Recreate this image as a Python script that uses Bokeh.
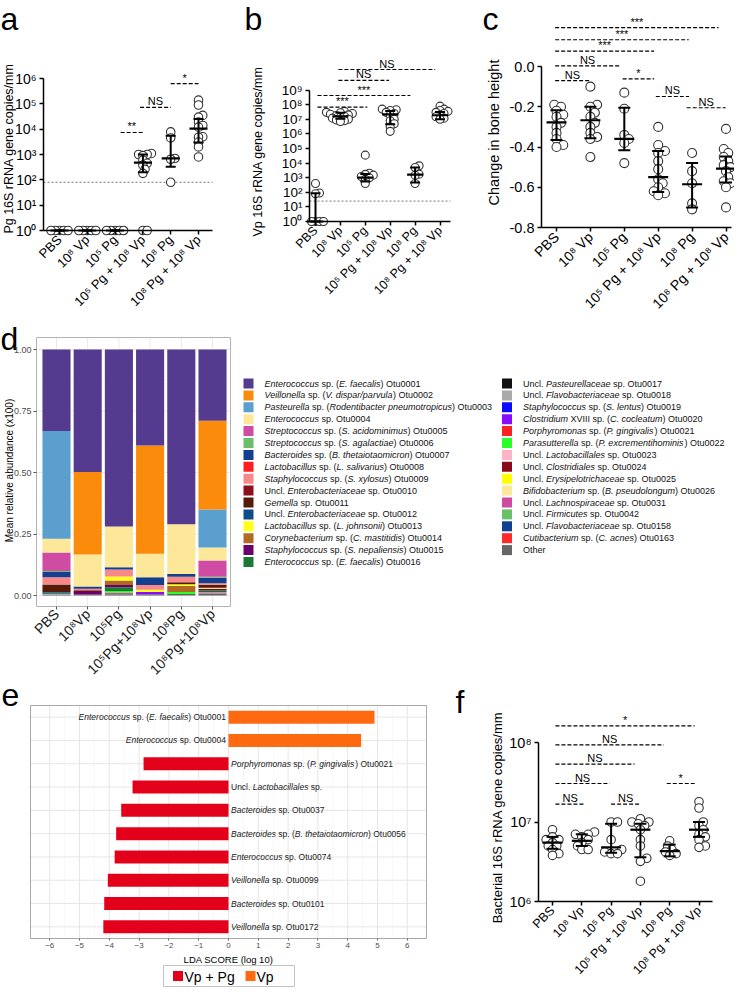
import math
from bokeh.plotting import figure
from bokeh.models import (Range1d, FixedTicker, CustomJSTickFormatter, NumeralTickFormatter,
                          ColumnDataSource)
from bokeh.layouts import row, column
from bokeh.embed import file_html
from bokeh.resources import INLINE
from bokeh.core.properties import value

FONT = "Liberation Sans"

# ---------------------------------------------------------------- data
groups = ["PBS", "10⁸ Vp", "10⁵ Pg", "10⁵ Pg + 10⁸ Vp", "10⁸ Pg", "10⁸ Pg + 10⁸ Vp"]
groups_d = ["PBS", "10⁸Vp", "10⁵Pg", "10⁵Pg+10⁸Vp", "10⁸Pg", "10⁸Pg+10⁸Vp"]

# (a) Pg 16S rRNA gene copies/mm
pg_PBS = [1, 1, 1, 1, 1]
pg_Vp = [1, 1, 1, 1, 1]
pg_Pg5 = [1, 1, 1, 1, 1]
pg_Pg5Vp = [1100, 1000, 1000, 900, 600, 450, 380, 260, 180, 1, 1]
pg_Pg8 = [7800, 4500, 700, 650, 80]
pg_Pg8Vp = [140000, 90000, 35000, 30000, 19000, 14000, 12000, 5000, 4800, 3100, 2000, 800]
pg_median = [1, 1, 1, 480, 700, 10500]
pg_low = [1, 1, 1, 200, 330, 3000]
pg_high = [1, 1, 1, 1000, 5500, 25000]
pg_limit = 80
pg_sig_from = [2.2, 2.9, 4.0]
pg_sig_to = [3.0, 4.0, 5.0]
pg_sig_y = [7400, 72000, 630000]
pg_sig_text = ["**", "NS", "*"]

# (b) Vp 16S rRNA gene copies/mm
vp_PBS = [400, 90, 80, 1, 1, 1, 1]
vp_Vp = [3.5e7, 3e7, 2.8e7, 2.5e7, 2.2e7, 2e7, 1.8e7, 1.6e7, 1.4e7, 1.2e7, 1e7, 9e6, 8e6, 7e6]
vp_Pg5 = [3.5e4, 2e3, 1.7e3, 1.5e3, 1.2e3, 1e3, 800, 400]
vp_Pg5Vp = [5e7, 4.5e7, 4e7, 3e7, 2.5e7, 2e7, 1e7, 8e6, 5e6, 3e6, 1.5e6]
vp_Pg8 = [6500, 5000, 1750, 1500, 400]
vp_Pg8Vp = [8e7, 5e7, 4e7, 3.5e7, 3e7, 2.5e7, 2e7, 1.5e7, 1.2e7, 1e7]
vp_median = [1, 1.6e7, 1000, 2.2e7, 1600, 1.9e7]
vp_low = [1, 1.1e7, 550, 4.6e6, 470, 1e7]
vp_high = [85, 2.8e7, 1800, 3.7e7, 5000, 3.2e7]
vp_limit = 25
vp_sig_from = [0.08, 0.08, 0.92, 0.92]
vp_sig_to = [2.08, 3.81, 2.95, 4.81]
vp_sig_y = [10 ** 7.83, 10 ** 8.63, 10 ** 9.66, 10 ** 10.41]
vp_sig_text = ["***", "***", "NS", "NS"]

# (c) change in bone height
bh_PBS = [-0.19, -0.20, -0.22, -0.24, -0.25, -0.28, -0.30, -0.33, -0.36, -0.39, -0.40]
bh_Vp = [-0.10, -0.19, -0.20, -0.23, -0.25, -0.28, -0.30, -0.33, -0.35, -0.36, -0.45]
bh_Pg5 = [-0.13, -0.21, -0.34, -0.36, -0.38, -0.48]
bh_Pg5Vp = [-0.30, -0.39, -0.42, -0.43, -0.47, -0.51, -0.56, -0.58, -0.60, -0.62, -0.63, -0.64]
bh_Pg8 = [-0.43, -0.52, -0.58, -0.68, -0.71]
bh_Pg8Vp = [-0.31, -0.41, -0.43, -0.45, -0.47, -0.49, -0.50, -0.52, -0.55, -0.57, -0.58, -0.60, -0.70]
bh_median = [-0.278, -0.267, -0.36, -0.55, -0.585, -0.507]
bh_low = [-0.365, -0.356, -0.416, -0.623, -0.70, -0.576]
bh_high = [-0.217, -0.20, -0.205, -0.42, -0.48, -0.447]
bh_sig_from = [-0.04, -0.04, -0.04, -0.04, -0.04, 1.95, 2.93, 3.84]
bh_sig_to = [0.98, 1.87, 2.88, 3.90, 4.78, 2.88, 3.91, 4.99]
bh_sig_y = [-0.07, 0.003, 0.076, 0.133, 0.193, -0.061, -0.149, -0.205]
bh_sig_text = ["NS", "NS", "***", "***", "***", "*", "NS", "NS"]

# (f) Bacterial 16S rRNA gene copies/mm
bt_PBS = [8e6, 6.5e6, 6e6, 6e6, 5.5e6, 5e6, 5e6, 4.5e6, 4e6, 3.8e6]
bt_Vp = [7.5e6, 7e6, 7e6, 6.5e6, 6e6, 5.5e6, 5e6, 4.5e6, 4.5e6]
bt_Pg5 = [1e7, 1e7, 6e6, 4.5e6, 4.2e6, 4e6, 4e6]
bt_Pg5Vp = [1.1e7, 1e7, 1e7, 9.5e6, 9e6, 8e6, 6e6, 5e6, 3.5e6, 3.2e6, 1.8e6]
bt_Pg8 = [5.8e6, 5e6, 4.5e6, 4.2e6, 4e6, 3.8e6]
bt_Pg8Vp = [1.8e7, 1.5e7, 1e7, 9e6, 8e6, 7e6, 6.5e6, 6e6, 5e6, 4.8e6]
bt_median = [5.5e6, 5.8e6, 4.8e6, 8e6, 4.3e6, 8e6]
bt_low = [4.6e6, 5e6, 4.1e6, 3.6e6, 3.7e6, 6.5e6]
bt_high = [6.5e6, 7e6, 9.5e6, 9.5e6, 5.2e6, 1e7]
bt_sig_from = [0.1, 0.1, 0.1, 0.1, 0.1, 2.0, 3.9]
bt_sig_to = [1.1, 1.95, 2.8, 3.8, 4.85, 3.0, 4.85]
bt_sig_y = [10 ** 7.225, 10 ** 7.484, 10 ** 7.728, 10 ** 7.971, 10 ** 8.21, 10 ** 7.225, 10 ** 7.484]
bt_sig_text = ["NS", "NS", "NS", "NS", "*", "NS", "*"]

# (d) mean relative abundance, one list per group (31 OTUs, legend order)
otu_labels = [
    "*Enterococcus* sp. (*E. faecalis*) Otu0001",
    "*Veillonella* sp. (*V. dispar/parvula*) Otu0002",
    "*Pasteurella* sp. (*Rodentibacter pneumotropicus*) Otu0003",
    "*Enterococcus* sp. Otu0004",
    "*Streptococcus* sp. (*S. acidominimus*) Otu0005",
    "*Streptococcus* sp. (*S. agalactiae*) Otu0006",
    "*Bacteroides* sp. (*B. thetaiotaomicron*) Otu0007",
    "*Lactobacillus* sp. (*L. salivarius*) Otu0008",
    "*Staphylococcus* sp. (*S. xylosus*) Otu0009",
    "Uncl. *Enterobacteriaceae* sp. Otu0010",
    "*Gemella* sp. Otu0011",
    "Uncl. *Enterobacteriaceae* sp. Otu0012",
    "*Lactobacillus* sp. (*L. johnsonii*) Otu0013",
    "*Corynebacterium* sp. (*C. mastitidis*) Otu0014",
    "*Staphylococcus* sp. (*S. nepaliensis*) Otu0015",
    "*Enterococcus* sp. (*E. faecalis*) Otu0016",
    "Uncl. *Pasteurellaceae* sp. Otu0017",
    "Uncl. *Flavobacteriaceae* sp. Otu0018",
    "*Staphylococcus* sp. (*S. lentus*) Otu0019",
    "*Clostridium* XVIII sp. (*C. cocleatum*) Otu0020",
    "*Porphyromonas* sp. (*P. gingivalis*) Otu0021",
    "*Parasutterella* sp. (*P. excrementihominis*) Otu0022",
    "Uncl. *Lactobacillales* sp. Otu0023",
    "Uncl. *Clostridiales* sp. Otu0024",
    "Uncl. *Erysipelotrichaceae* sp. Otu0025",
    "*Bifidobacterium* sp. (*B. pseudolongum*) Otu0026",
    "Uncl. *Lachnospiraceae* sp. Otu0031",
    "Uncl. *Firmicutes* sp. Otu0042",
    "Uncl. *Flavobacteriaceae* sp. Otu0158",
    "*Cutibacterium* sp. (*C. acnes*) Otu0163",
    "Other",
]
otu_colors = [
    "#553b8f", "#fb8c0b", "#5a9fcd", "#fde89a", "#d04ba3", "#6cbd6c", "#133f8e", "#ff1f1f",
    "#f7898b", "#8c0f1e", "#561a08", "#0e4e88", "#ffff1a", "#b06a25", "#6b006b", "#1a7a33",
    "#111111", "#aaaaaa", "#0a0aff", "#8a0aff", "#ff2020", "#2aff2a", "#ffb3c6", "#8b0a1a",
    "#ffff00", "#fde79a", "#d04aa0", "#6abf69", "#0f4190", "#ff2a2a", "#666666",
]
ab_PBS = [0.331, 0, 0.438, 0.056, 0.075, 0.004, 0.022, 0, 0.029, 0, 0.031, 0.003, 0, 0, 0, 0.003,
          0.002, 0.002, 0, 0, 0, 0, 0, 0, 0, 0, 0, 0, 0, 0, 0.004]
ab_Vp = [0.498, 0.335, 0, 0.130, 0, 0, 0.010, 0, 0.005, 0, 0, 0, 0, 0.004, 0.014, 0,
         0, 0, 0, 0, 0, 0, 0, 0, 0, 0, 0, 0, 0, 0, 0.004]
ab_Pg5 = [0.72, 0, 0, 0.165, 0, 0, 0.009, 0, 0.029, 0, 0, 0, 0.016, 0.018, 0.009, 0.016,
          0, 0, 0, 0, 0, 0.007, 0, 0, 0, 0, 0.006, 0, 0, 0, 0.005]
ab_Pg5Vp = [0.39, 0.44, 0, 0.0955, 0, 0, 0.0315, 0, 0.02, 0, 0, 0, 0.009, 0, 0, 0,
            0, 0, 0, 0.009, 0, 0, 0, 0, 0, 0, 0, 0, 0, 0, 0.005]
ab_Pg8 = [0.71, 0, 0, 0.203, 0, 0, 0.011, 0, 0.022, 0, 0.008, 0, 0.007, 0.025, 0, 0,
          0, 0, 0, 0, 0, 0.008, 0, 0, 0, 0, 0, 0, 0, 0, 0.006]
ab_Pg8Vp = [0.29, 0.36, 0.155, 0.053, 0.066, 0.004, 0.022, 0, 0.006, 0, 0.013, 0, 0.004, 0, 0.006, 0.004,
            0.004, 0, 0, 0, 0, 0, 0.004, 0, 0, 0, 0, 0, 0, 0, 0.009]
ab_ticks = [0, 0.25, 0.5, 0.75, 1.0]

# (e) LEfSe
lda_labels = [
    "*Enterococcus* sp. (*E. faecalis*) Otu0001",
    "*Enterococcus* sp. Otu0004",
    "*Porphyromonas* sp. (*P. gingivalis*) Otu0021",
    "Uncl. *Lactobacillales* sp.",
    "*Bacteroides* sp. Otu0037",
    "*Bacteroides* sp. (*B. thetaiotaomicron*) Otu0056",
    "*Enterococcus* sp. Otu0074",
    "*Veillonella* sp. Otu0099",
    "*Bacteroides* sp. Otu0101",
    "*Veillonella* sp. Otu0172",
]
lda_scores = [4.9, 4.45, -2.85, -3.22, -3.6, -3.77, -3.82, -4.05, -4.17, -4.2]
lda_class = ["Vp", "Vp", "Vp + Pg", "Vp + Pg", "Vp + Pg", "Vp + Pg", "Vp + Pg", "Vp + Pg", "Vp + Pg", "Vp + Pg"]
lda_class_names = ["Vp + Pg", "Vp"]
lda_class_colors = ["#e3001b", "#ff6a10"]
lda_ticks = list(range(-6, 7))

# ---------------------------------------------------------------- helpers
AW = {' ': 278, '(': 333, ')': 333, '.': 278, '/': 278, '+': 584, '-': 333}
for _c in "0123456789":
    AW[_c] = 556
AW.update(dict(zip("abcdefghijklmnopqrstuvwxyz",
                   [556, 556, 500, 556, 556, 278, 556, 556, 222, 222, 500, 222, 833, 556, 556, 556,
                    556, 333, 500, 278, 556, 500, 722, 500, 500, 500])))
AW.update(dict(zip("ABCDEFGHIJKLMNOPQRSTUVWXYZ",
                   [667, 667, 722, 722, 667, 611, 778, 722, 278, 500, 667, 556, 833, 722, 778, 667,
                    778, 722, 667, 611, 722, 667, 944, 667, 667, 611])))

LETTER_FS = 32


def tw(s, size):
    return sum(AW.get(ch, 556) for ch in s) / 1000.0 * size


def segments(label, size):
    out = []
    cum = 0.0
    for i, part in enumerate(label.split("*")):
        if not part:
            continue
        lead = len(part) - len(part.lstrip(" "))
        stripped = part.strip(" ")
        if stripped:
            out.append((stripped, i % 2 == 1, cum + tw(part[:lead], size)))
        cum += tw(part, size)
    return out, cum


def swarm(vals, ypx, diam, mind):
    order = sorted(range(len(vals)), key=lambda i: ypx(vals[i]))
    placed = []
    offs = [0.0] * len(vals)
    step = 0.25 * diam
    md = mind * diam
    cands = [0.0]
    for n in range(1, 80):
        cands += [n * step, -n * step]
    for i in order:
        y = ypx(vals[i])
        for c in cands:
            if all((c - px) ** 2 + (y - py) ** 2 >= md ** 2 - 1e-6 for px, py in placed):
                break
        placed.append((c, y))
        offs[i] = c
    return offs


SUP_JS = """
const s = {"0":"⁰","1":"¹","2":"²","3":"³","4":"⁴","5":"⁵","6":"⁶","7":"⁷","8":"⁸","9":"⁹","-":"⁻"};
const e = Math.round(Math.log10(tick));
return "10" + String(e).split("").map(c => s[c]).join("");
"""


def base_fig(W, H, xr, yr, log=False):
    p = figure(width=W, height=H, x_range=Range1d(*xr), y_range=Range1d(*yr),
               y_axis_type="log" if log else "linear", output_backend="svg",
               toolbar_location=None, min_border_left=0, min_border_right=0,
               min_border_top=0, min_border_bottom=0)
    p.outline_line_color = None
    p.grid.visible = False
    p.background_fill_color = "white"
    p.border_fill_color = "white"
    return p


def add_letter(p, txt, x, y):
    p.text(x=[x], y=[y], text=[txt], text_font=value(FONT), text_font_size="%dpx" % LETTER_FS,
           text_baseline="top", text_align="left", text_color="black")


def dot_panel(W, H, gx0, sx, y0px, yv0, sy, log, yticks, yaxis_px, xend_px, ylabel, ylab_pos,
              fmt, series, med, lo, hi, s_from, s_to, s_y, s_text, limit, letter, letter_px,
              tick_fs, ylab_fs, xlab_fs, diam, mind, medw, capw):
    # whole canvas is the frame; axes are placed at fixed data locations
    xr = (-gx0 / sx, (W - gx0) / sx)
    top_v = yv0 + y0px / sy
    bot_v = yv0 - (H - y0px) / sy
    yr = (10 ** bot_v, 10 ** top_v) if log else (bot_v, top_v)
    p = base_fig(W, H, xr, yr, log)

    def X(px):
        return (px - gx0) / sx

    def Y(px):
        v = yv0 + (y0px - px) / sy
        return 10 ** v if log else v

    def ypx(v):
        return (math.log10(v) if log else v) * sy

    if limit is not None:
        p.segment(x0=[X(yaxis_px)], y0=[limit], x1=[X(xend_px)], y1=[limit], line_color="#777777",
                  line_width=1, line_dash="2 2")
    xs, ys = [], []
    for g, vals in enumerate(series):
        offs = swarm(vals, ypx, diam, mind)
        xs += [g + o / sx for o in offs]
        ys += list(vals)
    p.scatter(x=xs, y=ys, marker="circle", size=diam, fill_color="white",
              line_color="#333333", line_width=1.1)
    gi = list(range(len(series)))
    mw = medw / sx
    cw = capw / sx
    p.segment(x0=gi, y0=lo, x1=gi, y1=hi, line_color="black", line_width=2)
    p.segment(x0=[g - cw for g in gi], y0=hi, x1=[g + cw for g in gi], y1=hi,
              line_color="black", line_width=2)
    p.segment(x0=[g - cw for g in gi], y0=lo, x1=[g + cw for g in gi], y1=lo,
              line_color="black", line_width=2)
    p.segment(x0=[g - mw for g in gi], y0=med, x1=[g + mw for g in gi], y1=med,
              line_color="black", line_width=2.2)
    p.segment(x0=s_from, y0=s_y, x1=s_to, y1=s_y, line_color="black", line_width=1.2,
              line_dash="4 2")
    p.text(x=[(a + b) / 2 for a, b in zip(s_from, s_to)], y=s_y, text=s_text,
           text_align="center", text_baseline="bottom", text_font=value(FONT),
           text_font_size="11px", text_color="black")
    # y-axis title
    p.text(x=[X(ylab_pos[0])], y=[Y(ylab_pos[1])], text=[ylabel], angle=math.pi / 2,
           text_align="center", text_baseline="middle", text_font=value(FONT),
           text_font_size=ylab_fs, text_color="black")
    add_letter(p, letter, X(letter_px[0]), Y(letter_px[1]))

    xa = p.xaxis[0]
    xa.fixed_location = yticks[0]
    xa.bounds = (X(yaxis_px), X(xend_px))
    xa.ticker = FixedTicker(ticks=gi, minor_ticks=[])
    xa.major_label_overrides = {g: groups[g] for g in gi}
    xa.major_label_orientation = math.pi / 4
    xa.major_label_text_font = FONT
    xa.major_label_text_font_size = xlab_fs
    xa.major_label_text_color = "black"
    xa.major_tick_line_width = 1.5
    xa.axis_line_width = 1.5
    xa.major_label_standoff = 3
    xa.major_tick_in = 0
    xa.major_tick_out = 4
    ya = p.yaxis[0]
    ya.fixed_location = X(yaxis_px)
    ya.bounds = (yticks[0], yticks[-1])
    ya.ticker = FixedTicker(ticks=yticks, minor_ticks=[])
    ya.formatter = fmt
    ya.major_label_text_font = FONT
    ya.major_label_text_font_size = tick_fs
    ya.major_label_text_color = "black"
    ya.major_tick_in = 0
    ya.major_tick_out = 4
    ya.major_tick_line_width = 1.5
    ya.axis_line_width = 1.5
    ya.major_label_standoff = 3
    return p


# ---------------------------------------------------------------- row 1
H1 = 318
pa = dot_panel(237, H1, 59, 27.8, 230, 0.0, 25.33, True, [10 ** k for k in range(7)], 43, 212,
               "Pg 16S rRNA gene copies/mm", (8, 148), CustomJSTickFormatter(code=SUP_JS),
               [pg_PBS, pg_Vp, pg_Pg5, pg_Pg5Vp, pg_Pg8, pg_Pg8Vp], pg_median, pg_low, pg_high,
               pg_sig_from, pg_sig_to, pg_sig_y, pg_sig_text, pg_limit, "a", (0, 0),
               "14px", "12.5px", "13px", 8.5, 0.5, 9, 5)

pb = dot_panel(245, H1, 78, 24.9, 221, 0.0, 14.6, True, [10 ** k for k in range(10)], 72, 213,
               "Vp 16S rRNA gene copies/mm", (20, 151), CustomJSTickFormatter(code=SUP_JS),
               [vp_PBS, vp_Vp, vp_Pg5, vp_Pg5Vp, vp_Pg8, vp_Pg8Vp], vp_median, vp_low, vp_high,
               vp_sig_from, vp_sig_to, vp_sig_y, vp_sig_text, vp_limit, "b", (7, 0),
               "13.5px", "12.5px", "12.5px", 8, 0.5, 8, 5)

pc = dot_panel(252, H1, 74, 33.9, 227, -0.8, 201.25, False, [-0.8, -0.6, -0.4, -0.2, 0.0], 59, 249,
               "Change in bone height", (11, 132), NumeralTickFormatter(format="0.0"),
               [bh_PBS, bh_Vp, bh_Pg5, bh_Pg5Vp, bh_Pg8, bh_Pg8Vp], bh_median, bh_low, bh_high,
               bh_sig_from, bh_sig_to, bh_sig_y, bh_sig_text, None, "c", (0, 0),
               "14.5px", "14.5px", "14px", 9, 0.62, 10, 6)

# ---------------------------------------------------------------- row 2 : (d) stacked bars
H2 = 360
DW = 242
d_gx0, d_sx, d_y0px, d_sy = 56, 31.2, 277, 246.0
pd = base_fig(DW, H2, (-d_gx0 / d_sx, (DW - d_gx0) / d_sx),
              (-(H2 - d_y0px) / d_sy, d_y0px / d_sy))


def dX(px):
    return (px - d_gx0) / d_sx


def dY(px):
    return (d_y0px - px) / d_sy


d_left, d_right, d_top, d_bot = dX(36), dX(230), dY(19), dY(288)
minor_ab = [(a + b) / 2 for a, b in zip(ab_ticks[:-1], ab_ticks[1:])]
pd.segment(x0=[d_left] * len(minor_ab), y0=minor_ab, x1=[d_right] * len(minor_ab), y1=minor_ab,
           line_color="#f3f3f3", line_width=0.6)
pd.segment(x0=[d_left] * len(ab_ticks), y0=ab_ticks, x1=[d_right] * len(ab_ticks), y1=ab_ticks,
           line_color="#e8e8e8", line_width=1)
pd.segment(x0=list(range(6)), y0=[d_bot] * 6, x1=list(range(6)), y1=[d_top] * 6,
           line_color="#e8e8e8", line_width=1)
ab_groups = [ab_PBS, ab_Vp, ab_Pg5, ab_Pg5Vp, ab_Pg8, ab_Pg8Vp]
src = {"x": list(range(6))}
for k in range(len(otu_labels)):
    src["o%d" % k] = [ab[k] for ab in ab_groups]
order = list(range(len(otu_labels) - 1, -1, -1))
pd.vbar_stack(["o%d" % k for k in order], x="x", width=0.9, source=ColumnDataSource(src),
              fill_color=[otu_colors[k] for k in order], line_color=None)
pd.quad(left=[d_left], right=[d_right], bottom=[d_bot], top=[d_top], fill_color=None,
        line_color="#b3b3b3", line_width=1)
add_letter(pd, "d", dX(0), dY(2))
pd.text(x=[dX(9)], y=[dY(152)], text=["Mean relative abundance (x100)"], angle=math.pi / 2,
        text_align="center", text_baseline="middle", text_font=value(FONT),
        text_font_size="10px", text_color="black")
xa = pd.xaxis[0]
xa.fixed_location = d_bot
xa.bounds = (d_left, d_right)
xa.axis_line_color = None
xa.ticker = FixedTicker(ticks=list(range(6)), minor_ticks=[])
xa.major_label_overrides = {i: groups_d[i] for i in range(6)}
xa.major_label_orientation = math.pi / 4
xa.major_label_text_font = FONT
xa.major_label_text_font_size = "14px"
xa.major_label_text_color = "#1a1a1a"
xa.major_label_standoff = 2
xa.major_tick_line_color = "#555555"
xa.major_tick_in = 0
xa.major_tick_out = 3
ya = pd.yaxis[0]
ya.fixed_location = d_left
ya.bounds = (d_bot, d_top)
ya.axis_line_color = None
ya.ticker = FixedTicker(ticks=ab_ticks, minor_ticks=[])
ya.formatter = NumeralTickFormatter(format="0.00")
ya.major_label_text_font = FONT
ya.major_label_text_font_size = "9px"
ya.major_label_text_color = "#4d4d4d"
ya.major_label_standoff = 2
ya.major_tick_line_color = "#555555"
ya.major_tick_in = 0
ya.major_tick_out = 3

# legend of (d)
LFS = 9.0
LW = 492
pl = base_fig(LW, H2, (0, LW), (H2, 0))
pl.axis.visible = False
per_col = 16
sw_x, sw_y, tx_i, ty_i, tt_i, tx_n, ty_n, tt_n = [], [], [], [], [], [], [], []
for k, lab in enumerate(otu_labels):
    col, r = divmod(k, per_col)
    cx = 6 + col * 258.5
    cy = 65 + r * 11.9
    sw_x.append(cx)
    sw_y.append(cy)
    segs, _ = segments(lab, LFS)
    for text, ital, off in segs:
        if ital:
            tx_i.append(cx + 16 + off); ty_i.append(cy); tt_i.append(text)
        else:
            tx_n.append(cx + 16 + off); ty_n.append(cy); tt_n.append(text)
pl.rect(x=sw_x, y=sw_y, width=10, height=10, fill_color=otu_colors, line_color=None)
pl.text(x=tx_i, y=ty_i, text=tt_i, text_font=value(FONT), text_font_size="%.1fpx" % LFS,
        text_font_style="italic", text_baseline="middle", text_align="left", text_color="#111111")
pl.text(x=tx_n, y=ty_n, text=tt_n, text_font=value(FONT), text_font_size="%.1fpx" % LFS,
        text_baseline="middle", text_align="left", text_color="#111111")

# ---------------------------------------------------------------- row 3 : (e) LDA bars
H3 = 309
EW = 450
E_OFF = 7
e_gx0, e_sx = 228, 29.8
e_r0px, e_sr = 31.65 + E_OFF, 23.3
pe = base_fig(EW, H3, (-e_gx0 / e_sx, (EW - e_gx0) / e_sx),
              ((H3 - e_r0px) / e_sr, -e_r0px / e_sr))


def eX(px):
    return (px - e_gx0) / e_sx


def eY(px):
    return (px - e_r0px) / e_sr


e_left, e_right, e_top, e_bot = eX(30), eX(426), eY(20 + E_OFF), eY(253 + E_OFF)
nrows = len(lda_labels)
minor_e = [t + 0.5 for t in lda_ticks[:-1]]
pe.segment(x0=minor_e, y0=[e_top] * len(minor_e), x1=minor_e, y1=[e_bot] * len(minor_e),
           line_color="#f2f2f2", line_width=0.6)
pe.segment(x0=lda_ticks, y0=[e_top] * len(lda_ticks), x1=lda_ticks, y1=[e_bot] * len(lda_ticks),
           line_color="#e6e6e6", line_width=1)
pe.segment(x0=[e_left] * nrows, y0=list(range(nrows)), x1=[e_right] * nrows, y1=list(range(nrows)),
           line_color="#e6e6e6", line_width=1)
for cname, ccol in zip(lda_class_names, lda_class_colors):
    idx = [i for i, c in enumerate(lda_class) if c == cname]
    pe.hbar(y=idx, left=0, right=[lda_scores[i] for i in idx], height=0.56,
            fill_color=ccol, line_color=None)
pe.quad(left=[e_left], right=[e_right], bottom=[e_bot], top=[e_top], fill_color=None,
        line_color="#a8a8a8", line_width=1)
EFS = 8.5
ex_i, ey_i, et_i, ex_n, ey_n, et_n = [], [], [], [], [], []
for i, (lab, sc) in enumerate(zip(lda_labels, lda_scores)):
    segs, total = segments(lab, EFS)
    start = (-2.5 - total) if sc > 0 else 2.5
    for text, ital, off in segs:
        if ital:
            ex_i.append(start + off); ey_i.append(i); et_i.append(text)
        else:
            ex_n.append(start + off); ey_n.append(i); et_n.append(text)
pe.text(x=[0] * len(ex_i), y=ey_i, x_offset=ex_i, text=et_i, text_font=value(FONT),
        text_font_size="%.1fpx" % EFS, text_font_style="italic", text_baseline="middle",
        text_align="left", text_color="#222222")
pe.text(x=[0] * len(ex_n), y=ey_n, x_offset=ex_n, text=et_n, text_font=value(FONT),
        text_font_size="%.1fpx" % EFS, text_baseline="middle", text_align="left",
        text_color="#222222")
# legend of (e)
pe.rect(x=[eX(228.5)], y=[eY(290.5 + E_OFF)], width=131, height=21, width_units="screen",
        height_units="screen", fill_color=None, line_color="#c4c4c4", line_width=1)
pe.rect(x=[eX(177.5), eX(250)], y=[eY(290.5 + E_OFF)] * 2, width=10, height=10,
        width_units="screen", height_units="screen", fill_color=lda_class_colors, line_color=None)
pe.text(x=[eX(184), eX(256)], y=[eY(291 + E_OFF)] * 2, text=lda_class_names, text_font=value(FONT),
        text_font_size="14px", text_baseline="middle", text_align="left", text_color="black")
add_letter(pe, "e", eX(1), eY(5))
xa = pe.xaxis[0]
xa.fixed_location = e_bot
xa.bounds = (e_left, e_right)
xa.axis_line_color = None
xa.ticker = FixedTicker(ticks=lda_ticks, minor_ticks=[])
xa.major_tick_line_color = "#666666"
xa.major_tick_in = 0
xa.major_tick_out = 2
xa.major_label_text_font = FONT
xa.major_label_text_font_size = "8px"
xa.major_label_text_color = "#4d4d4d"
xa.major_label_standoff = 2
xa.axis_label = "LDA SCORE (log 10)"
xa.axis_label_text_font = FONT
xa.axis_label_text_font_size = "9.5px"
xa.axis_label_text_font_style = "normal"
xa.axis_label_text_color = "black"
xa.axis_label_standoff = 3
pe.yaxis.visible = False

# (f)
pf = dot_panel(284, H3, 102, 29.3, 216 + E_OFF, 6.0, 79.5, True, [1e6, 1e7, 1e8], 88, 262,
               "Bacterial 16S rRNA gene copies/mm", (47, 132 + E_OFF), CustomJSTickFormatter(code=SUP_JS),
               [bt_PBS, bt_Vp, bt_Pg5, bt_Pg5Vp, bt_Pg8, bt_Pg8Vp], bt_median, bt_low, bt_high,
               bt_sig_from, bt_sig_to, bt_sig_y, bt_sig_text, None, "f", (5, 5),
               "14.5px", "13px", "12.5px", 8.5, 0.62, 10, 6)

layout = column(row(pa, pb, pc), row(pd, pl), row(pe, pf))
with open("out.html", "w") as fh:
    fh.write(file_html(layout, INLINE, title="Figure"))
